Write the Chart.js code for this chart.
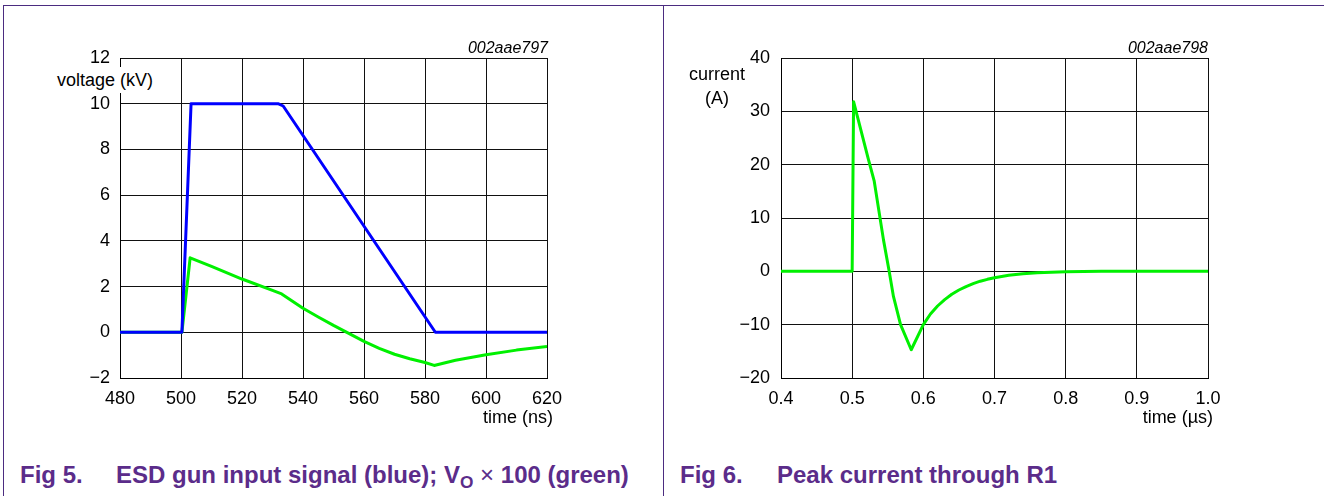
<!DOCTYPE html>
<html>
<head>
<meta charset="utf-8">
<script src="https://cdn.jsdelivr.net/npm/chart.js@4"></script>
<style>
  body { margin: 0; background: #fff; width: 1324px; height: 496px; overflow: hidden; position: relative;
         font-family: "Liberation Sans", Arial, sans-serif; }
  canvas { position: absolute; top: 10px; }
  .t { position: absolute; font-size: 18px; line-height: 18px; color: #000; white-space: nowrap; }
  .code { position: absolute; font-size: 16px; line-height: 16px; font-style: italic; width: 200px; text-align: right; }
  .cap { position: absolute; top: 463px; font-size: 24px; line-height: 24px; font-weight: bold; color: #5b2c8a; white-space: nowrap; }
  .ln { position: absolute; background: #4b2c80; }
</style>
</head>
<body>
<div class="ln" style="left:3px;top:5px;width:1321px;height:1px"></div>
<div class="ln" style="left:3px;top:5px;width:1px;height:491px"></div>
<div class="ln" style="left:663px;top:5px;width:1px;height:491px"></div>

<canvas id="fig5" width="600" height="420" style="left:10px"></canvas>
<canvas id="fig6" width="600" height="420" style="left:673px"></canvas>

<div class="code" style="left:348px;top:40px">002aae797</div>
<div class="t" style="left:54px;top:67px;padding:4px 3px;background:#fff">voltage (kV)</div>
<div class="t" style="left:453px;top:408px;width:100px;text-align:right">time (ns)</div>

<div class="code" style="left:1008px;top:40px">002aae798</div>
<div class="t" style="left:677px;top:62px;width:80px;text-align:center;line-height:24px">current<br>(A)</div>
<div class="t" style="left:1113px;top:408px;width:100px;text-align:right">time (&micro;s)</div>

<div class="cap" style="left:20px">Fig 5.</div>
<div class="cap" style="left:116px">ESD gun input signal (blue); V<span style="font-size:0.72em;position:relative;top:0.3em">O</span> <span style="font-weight:normal">&times;</span> 100 (green)</div>
<div class="cap" style="left:680px">Fig 6.</div>
<div class="cap" style="left:777px">Peak current through R1</div>

<script>
// Fig 5: ESD gun input (kV) and Vo x 100
var blueTime = [480, 500.3, 503.3, 531.8, 533.5, 583.4, 620];
var blueVolt = [0, 0, 10, 10, 9.9, 0, 0];
var greenTime = [480, 500.3, 503, 510, 520, 530, 533, 540, 545, 550, 555, 560, 565, 570, 575, 580, 583, 590, 600, 610, 620];
var greenVolt = [0, 0, 3.26, 2.88, 2.33, 1.83, 1.68, 1.05, 0.67, 0.3, -0.05, -0.4, -0.7, -0.96, -1.16, -1.32, -1.45, -1.22, -0.98, -0.78, -0.62];
var fig5XTicks = [480, 500, 520, 540, 560, 580, 600, 620];
var fig5YTicks = [-2, 0, 2, 4, 6, 8, 10, 12];

// Fig 6: current through R1
var currTime = [0.4, 0.5, 0.502, 0.523, 0.531, 0.544, 0.552, 0.558, 0.568, 0.583, 0.6, 0.61, 0.62, 0.63, 0.64, 0.65, 0.66, 0.67, 0.68, 0.69, 0.7, 0.72, 0.74, 0.76, 0.78, 0.8, 0.85, 1.0];
var current = [0, 0, 31.8, 20.9, 16.9, 5.9, 0, -4.7, -10, -14.7, -10, -8.0, -6.5, -5.3, -4.3, -3.5, -2.85, -2.3, -1.85, -1.5, -1.2, -0.75, -0.45, -0.27, -0.15, -0.08, 0, 0];
var fig6XTicks = [0.4, 0.5, 0.6, 0.7, 0.8, 0.9, 1.0];
var fig6YTicks = [-20, -10, 0, 10, 20, 30, 40];

function pts(xs, ys) {
  return xs.map(function(x, i) { return { x: x, y: ys[i] }; });
}

function fixTicks(arr) {
  return function(scale) {
    scale.ticks = arr.map(function(v) { return { value: v }; });
  };
}

function minus(v) {
  return v < 0 ? '\u2212' + Math.abs(v) : '' + v;
}

var tickFont = { family: '"Liberation Sans", Arial, sans-serif', size: 18 };
var gridStyle = { color: '#111', lineWidth: 1, drawTicks: false };

function axes(xArr, yArr, yWidth, xFmt, yPad) {
  return {
    x: {
      type: 'linear', min: xArr[0], max: xArr[xArr.length - 1],
      afterBuildTicks: fixTicks(xArr),
      afterFit: function(s) { s.height = 52; },
      grid: gridStyle,
      border: { color: '#000', width: 1 },
      ticks: { color: '#000', font: tickFont, padding: 10, maxRotation: 0, callback: xFmt }
    },
    y: {
      type: 'linear', min: yArr[0], max: yArr[yArr.length - 1],
      afterBuildTicks: fixTicks(yArr),
      afterFit: function(s) { s.width = yWidth; },
      grid: gridStyle,
      border: { color: '#000', width: 1 },
      ticks: { color: '#000', font: tickFont, padding: yPad, callback: minus }
    }
  };
}

function line(xs, ys, colour) {
  return {
    data: pts(xs, ys),
    borderColor: colour,
    borderWidth: 3,
    borderJoinStyle: 'round',
    pointRadius: 0,
    tension: 0
  };
}

new Chart(document.getElementById('fig5'), {
  type: 'line',
  data: {
    datasets: [
      line(blueTime, blueVolt, 'rgb(0, 0, 255)'),
      line(greenTime, greenVolt, 'rgb(0, 240, 0)')
    ]
  },
  options: {
    responsive: false,
    animation: false,
    layout: { padding: { left: 0, top: 48, right: 63, bottom: 0 } },
    plugins: { legend: { display: false }, tooltip: { enabled: false } },
    scales: axes(fig5XTicks, fig5YTicks, 110, function(v) { return '' + v; }, 10)
  }
});

new Chart(document.getElementById('fig6'), {
  type: 'line',
  data: {
    datasets: [line(currTime, current, 'rgb(0, 240, 0)')]
  },
  options: {
    responsive: false,
    animation: false,
    layout: { padding: { left: 0, top: 48, right: 65, bottom: 0 } },
    plugins: { legend: { display: false }, tooltip: { enabled: false } },
    scales: axes(fig6XTicks, fig6YTicks, 108, function(v) { return v.toFixed(1); }, 11)
  }
});
</script>
</body>
</html>
